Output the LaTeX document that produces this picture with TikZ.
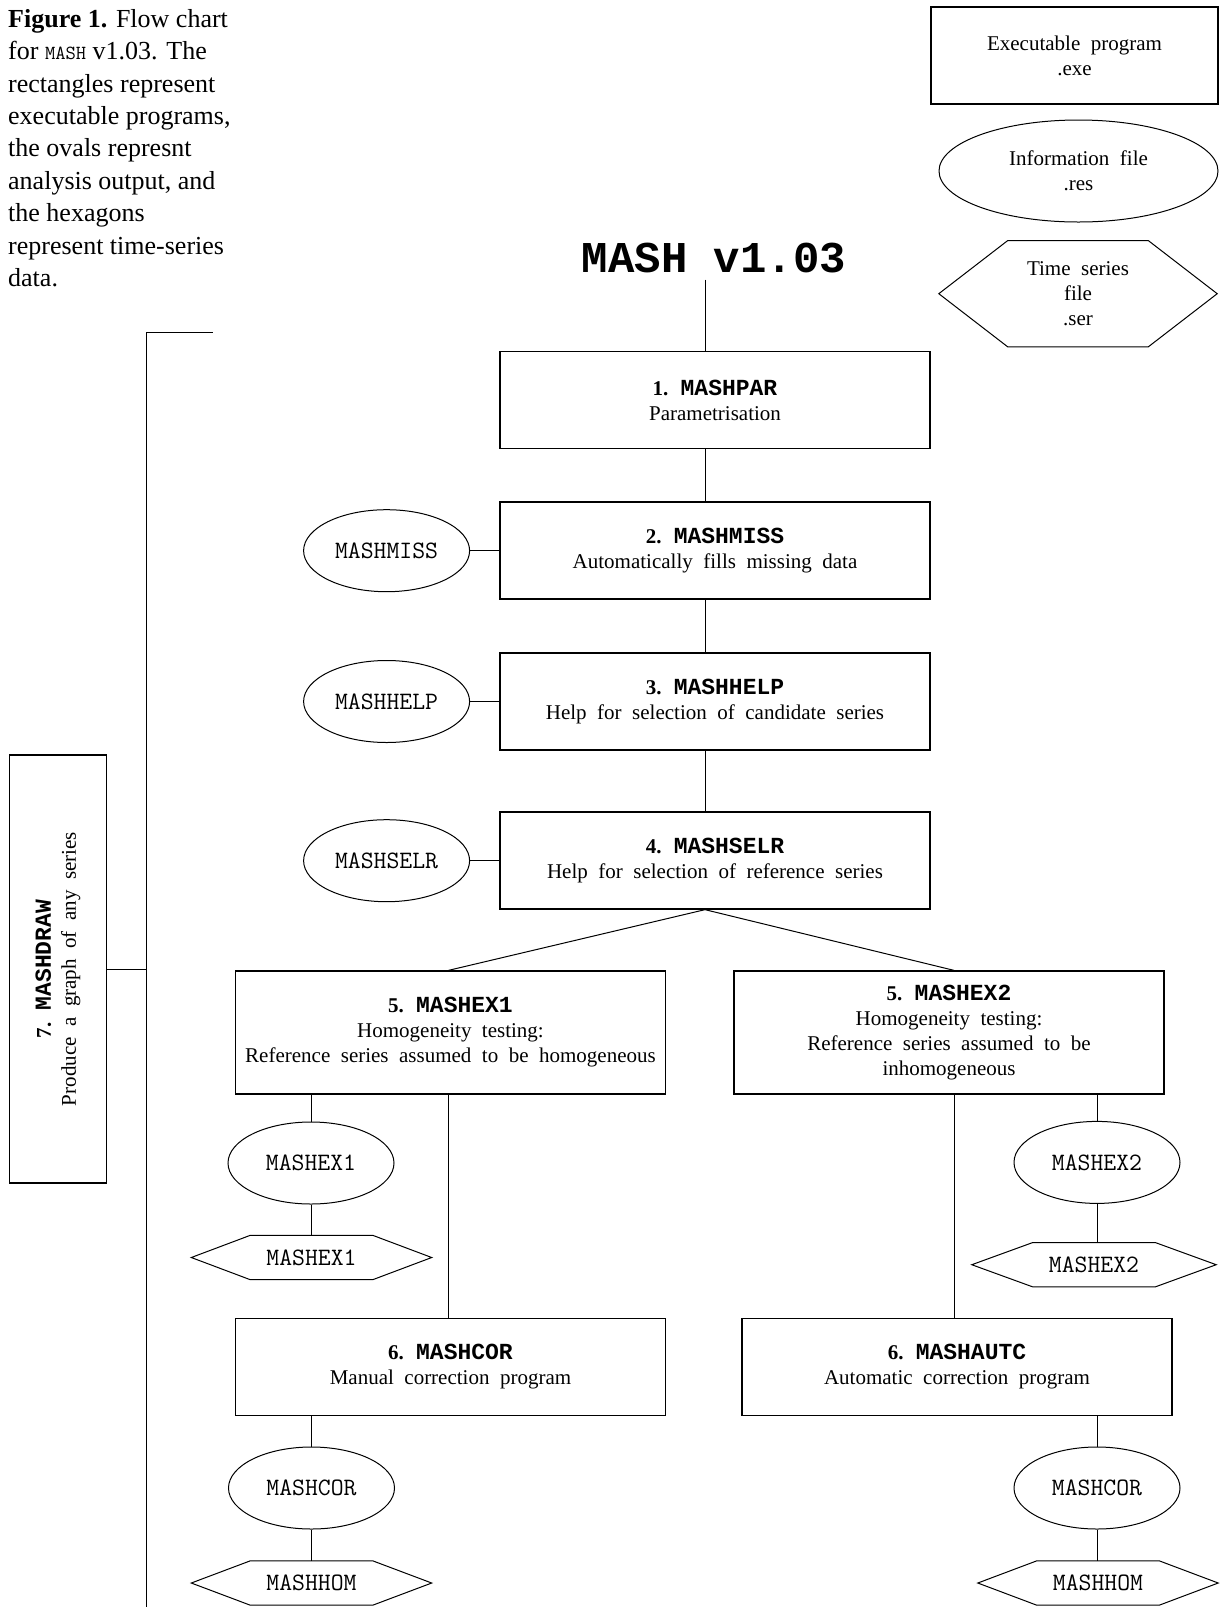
\documentclass[tikz,border=0pt]{standalone}
\usepackage{fontspec}
\setmainfont{Liberation Serif}
\newfontfamily\boldmono{Liberation Mono}
\usetikzlibrary{shapes.geometric}
\newcommand{\progname}[1]{{\fontsize{23}{25}\selectfont\boldmono\bfseries #1}}
\newcommand{\hexframe}[2]{\draw [link] ([xshift=-#2]#1.west) -- (#1.north west) -- (#1.north east) -- ([xshift=#2]#1.east) -- (#1.south east) -- (#1.south west) -- cycle;}
\tikzstyle{prog} = [rectangle, draw, line width=1.3pt, minimum width=430pt, minimum height=97pt, align=center, font={\fontsize{21}{25}\selectfont\spaceskip=0.5em\relax}]
\tikzstyle{info} = [ellipse, draw, line width=1pt, minimum width=166pt, minimum height=82pt, inner sep=0pt, align=center, font={\fontsize{25}{25}\selectfont\ttfamily}]
\tikzstyle{series} = [rectangle, minimum width=122pt, minimum height=44pt, inner sep=0pt, align=center, font={\fontsize{25}{25}\selectfont\ttfamily}]
\tikzstyle{link} = [line width=1pt]

\begin{document}
\begin{tikzpicture}[x=1pt,y=-1pt]
        \useasboundingbox (0,0) rectangle (1223,1607);
        \node [anchor=north west, inner sep=0pt, align=left, font={\fontsize{26}{32.4}\selectfont}] at (8,9) (caption) {\textbf{Figure 1.} Flow chart\\for {\fontsize{20}{20}\selectfont\ttfamily MASH} v1.03. The\\rectangles represent\\executable programs,\\the ovals represnt\\analysis output, and\\the hexagons\\represent time-series\\data.};
        \node [prog, minimum width=287pt] at (1074.5,55.5) (kexe) {Executable program\\.exe};
        \node [info, minimum width=279pt, minimum height=102pt, font={\fontsize{21}{25}\selectfont\spaceskip=0.5em\relax}] at (1078.5,171) (kres) {Information file\\.res};
        \node [series, minimum width=140pt, minimum height=106pt, font={\fontsize{21}{25}\selectfont\spaceskip=0.5em\relax}] at (1078,293.7) (kser) {Time series\\file\\.ser};
        \hexframe{kser}{69pt}
        \node [anchor=base, inner sep=7pt, font={\fontsize{44}{44}\selectfont\boldmono\bfseries}] at (714,272) (title) {MASH v1.03};
        \node [prog] at (715,400) (p1) {\textbf{1.} \progname{MASHPAR}\\Parametrisation};
        \node [prog] at (715,550.5) (p2) {\textbf{2.} \progname{MASHMISS}\\Automatically fills missing data};
        \node [prog] at (715,701.5) (p3) {\textbf{3.} \progname{MASHHELP}\\Help for selection of candidate series};
        \node [prog] at (715,860.5) (p4) {\textbf{4.} \progname{MASHSELR}\\Help for selection of reference series};
        \node [prog, minimum height=123pt] at (450.5,1032.5) (p5a) {\textbf{5.} \progname{MASHEX1}\\Homogeneity testing:\\Reference series assumed to be homogeneous};
        \node [prog, minimum height=123pt] at (949,1032.5) (p5b) {\textbf{5.} \progname{MASHEX2}\\Homogeneity testing:\\Reference series assumed to be\\inhomogeneous};
        \node [prog] at (450.5,1367) (p6a) {\textbf{6.} \progname{MASHCOR}\\Manual correction program};
        \node [prog] at (957,1367) (p6b) {\textbf{6.} \progname{MASHAUTC}\\Automatic correction program};
        \node [prog, rotate=90, minimum width=428pt, minimum height=97.4pt] at (58,969) (p7) {\textbf{7.} \progname{MASHDRAW}\\Produce a graph of any series};
        \node [info] at (386.6,550.7) (e2) {MASHMISS};
        \node [info] at (386.6,701.5) (e3) {MASHHELP};
        \node [info] at (386.6,860.7) (e4) {MASHSELR};
        \node [info] at (311,1163) (e5a) {MASHEX1};
        \node [info] at (1097,1162.4) (e5b) {MASHEX2};
        \node [info] at (311.5,1488) (e6a) {MASHCOR};
        \node [info] at (1097,1488) (e6b) {MASHCOR};
        \node [series] at (311.5,1257.5) (h5a) {MASHEX1};
        \node [series] at (1094,1264.7) (h5b) {MASHEX2};
        \node [series] at (311.5,1583) (h6a) {MASHHOM};
        \node [series] at (1098,1583) (h6b) {MASHHOM};
        \hexframe{h5a}{59pt}
        \hexframe{h5b}{61pt}
        \hexframe{h6a}{59pt}
        \hexframe{h6b}{59pt}
        \coordinate (ltop) at (146,332);
        \coordinate (lend) at (212.5,332);
        \coordinate (lbot) at (146,1607);
        \draw [link] ([xshift=-9pt]title.south) -- ([xshift=-10pt]p1.north);
        \draw [link] ([xshift=-10pt]p1.south) -- ([xshift=-10pt]p2.north);
        \draw [link] ([xshift=-10pt]p2.south) -- ([xshift=-10pt]p3.north);
        \draw [link] ([xshift=-10pt]p3.south) -- ([xshift=-10pt]p4.north);
        \draw [link] (e2.east) -- (e2.east -| p2.west);
        \draw [link] (e3.east) -- (e3.east -| p3.west);
        \draw [link] (e4.east) -- (e4.east -| p4.west);
        \draw [link] ([xshift=-10pt]p4.south) -- ([xshift=-2pt]p5a.north);
        \draw [link] ([xshift=-10pt]p4.south) -- ([xshift=5pt]p5b.north);
        \draw [link] (p5a.south -| e5a) -- (e5a.north);
        \draw [link] (e5a.south) -- (e5a.south |- h5a.north);
        \draw [link] ([xshift=-2pt]p5a.south) -- ([xshift=-2pt]p6a.north);
        \draw [link] (p5b.south -| e5b) -- (e5b.north);
        \draw [link] (e5b.south) -- (e5b.south |- h5b.north);
        \draw [link] ([xshift=5pt]p5b.south) -- ([xshift=-3pt]p6b.north);
        \draw [link] (p6a.south -| e6a) -- (e6a.north);
        \draw [link] (e6a.south) -- (e6a.south |- h6a.north);
        \draw [link] (p6b.south -| e6b) -- (e6b.north);
        \draw [link] (e6b.south) -- (e6b.south |- h6b.north);
        \draw [link] (lend) -- (ltop) -- (lbot);
        \draw [link] (p7.south) -- (p7.south -| ltop);
        \end{tikzpicture}
\end{document}
